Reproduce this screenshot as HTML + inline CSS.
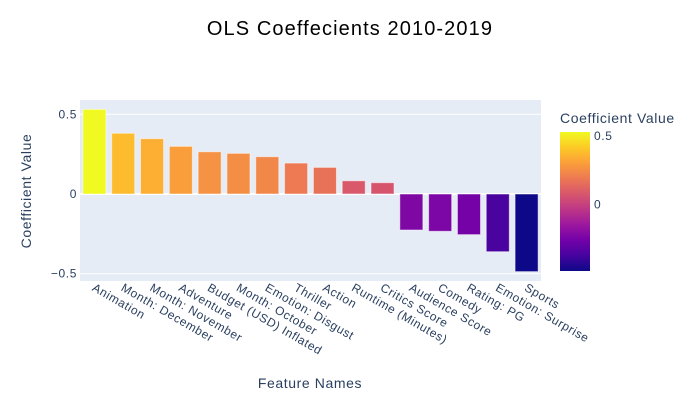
<!DOCTYPE html>
<html><head><meta charset="utf-8"><style>
body{margin:0;background:#fff;}
svg{display:block;font-family:"Liberation Sans","DejaVu Sans",sans-serif;}
svg text{letter-spacing:0.6px;}
</style></head><body>
<svg id="chart" width="700" height="400">
<defs><linearGradient id="plasma" x1="0" y1="1" x2="0" y2="0">
<stop offset="0" stop-color="#0d0887"/><stop offset="0.111" stop-color="#46039f"/>
<stop offset="0.222" stop-color="#7201a8"/><stop offset="0.333" stop-color="#9c179e"/>
<stop offset="0.444" stop-color="#bd3786"/><stop offset="0.556" stop-color="#d8576b"/>
<stop offset="0.667" stop-color="#ed7953"/><stop offset="0.778" stop-color="#fb9f3a"/>
<stop offset="0.889" stop-color="#fdca26"/><stop offset="1" stop-color="#f0f921"/>
</linearGradient></defs>
<text x="350" y="35" text-anchor="middle" font-size="20" fill="#000" style="letter-spacing:1.1px">OLS Coeffecients 2010-2019</text>
<rect x="80" y="100" width="461" height="181" fill="#e5ecf6"/>
<g id="grid"></g><g id="bars"></g><g id="xlabels"></g>
<text transform="translate(31,191) rotate(-90)" text-anchor="middle" font-size="14" fill="#2a3f5f">Coefficient Value</text>
<text x="310" y="388" text-anchor="middle" font-size="14" fill="#2a3f5f">Feature Names</text>
<text x="560" y="123" font-size="14" fill="#2a3f5f">Coefficient Value</text>
<rect x="560" y="132" width="30" height="139" fill="url(#plasma)"/>
<g id="cbticks"></g>
</svg>
<script>
const categories=["Animation","Month: December","Month: November","Adventure","Budget (USD) Inflated","Month: October","Emotion: Disgust","Thriller","Action","Runtime (Minutes)","Critics Score","Audience Score","Comedy","Rating: PG","Emotion: Surprise","Sports"];
const values=[0.531,0.381,0.347,0.299,0.265,0.255,0.234,0.194,0.167,0.083,0.071,-0.226,-0.234,-0.255,-0.362,-0.487];
const yTicks=[-0.5,0,0.5];
const yTickLabels=["−0.5","0","0.5"];
const cbTicks=[0,0.5];
const cbTickLabels=["0","0.5"];
const NS="http://www.w3.org/2000/svg";
const X0=80,W=461,Y0=194,K=159.4;
const y=v=>Y0-v*K;
const band=W/categories.length;
const xc=i=>X0+band*(i+0.5);
const stops=[[13,8,135],[70,3,159],[114,1,168],[156,23,158],[189,55,134],[216,87,107],[237,121,83],[251,159,58],[253,202,38],[240,249,33]];
const vmin=Math.min(...values),vmax=Math.max(...values);
function color(v){let t=(v-vmin)/(vmax-vmin)*9;let i=Math.min(8,Math.floor(t));let f=t-i;const a=stops[i],b=stops[i+1];return `rgb(${a.map((c,k)=>Math.round(c+(b[k]-c)*f)).join(',')})`;}
function mk(tag,attrs,parent){const e=document.createElementNS(NS,tag);for(const k in attrs)e.setAttribute(k,attrs[k]);document.getElementById(parent).appendChild(e);return e;}
yTicks.forEach((t,i)=>{
 const l=mk('line',{x1:X0,x2:X0+W,y1:y(t),y2:y(t),stroke:'#fff','stroke-width':t===0?2:1},'grid');
 
 
 const tx=mk('text',{x:X0-3,y:y(t)+4,'text-anchor':'end','font-size':12,fill:'#2a3f5f'},'grid');
 tx.textContent=yTickLabels[i];
 
 
});
values.forEach((v,i)=>{
 const bw=band*0.8;
 const r=mk('rect',{x:xc(i)-bw/2,y:Math.min(y(v),y(0)),width:bw,height:Math.abs(y(v)-y(0)),fill:color(v),stroke:'rgba(255,255,255,0.5)','stroke-width':1},'bars');
 
 
 const tx=mk('text',{transform:`translate(${xc(i)-3},${290}) rotate(30)`,'font-size':12,fill:'#2a3f5f'},'xlabels');
 tx.textContent=categories[i];
 
 
});
cbTicks.forEach((t,i)=>{
 const py=132+(vmax-t)/(vmax-vmin)*139;
 const tx=mk('text',{x:594,y:py+4,'font-size':12,fill:'#2a3f5f'},'cbticks');
 tx.textContent=cbTickLabels[i];
 
 
});
</script>
</body></html>
